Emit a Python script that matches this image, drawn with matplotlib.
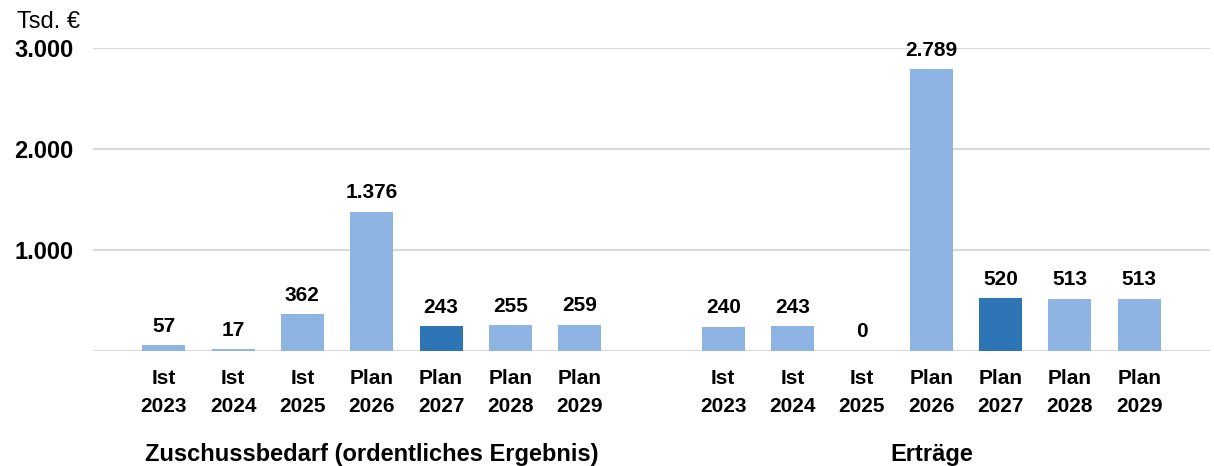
import numpy as np
import matplotlib.pyplot as plt
from matplotlib.ticker import FuncFormatter

plt.rcParams['font.family'] = ['Liberation Sans', 'DejaVu Sans']

tick_labels = ['Ist\n2023', 'Ist\n2024', 'Ist\n2025', 'Plan\n2026', 'Plan\n2027', 'Plan\n2028', 'Plan\n2029']
zuschuss = [57, 17, 362, 1376, 243, 255, 259]
ertraege = [240, 243, 0, 2789, 520, 513, 513]
groups = ['Zuschussbedarf (ordentliches Ergebnis)', 'Erträge']
highlight = 4  # Plan 2027

light = '#8DB4E2'
dark = '#2E75B6'
grid = '#D9D9D9'

fig = plt.figure(figsize=(12.14, 4.66), dpi=100)
ax = fig.add_axes([93 / 1214, 115 / 466, (1210 - 93) / 1214, (351 - 48) / 466])

n = len(tick_labels)
x1 = np.arange(n)
x2 = np.arange(n) + 8.07
colors = [dark if i == highlight else light for i in range(n)]

for xs, vals in [(x1, zuschuss), (x2, ertraege)]:
    bars = ax.bar(xs, vals, width=0.62, color=colors, zorder=3)
    for b, v in zip(bars, vals):
        ax.annotate(f'{v:,}'.replace(',', '.'), (b.get_x() + b.get_width() / 2, v),
                    xytext=(0, 7), textcoords='offset points', ha='center', va='bottom',
                    fontsize=15, fontweight='bold', annotation_clip=False)

ax.set_xlim(-1.02, 15.09)
ax.set_ylim(0, 3000)
ax.set_yticks([1000, 2000, 3000])
ax.yaxis.set_major_formatter(FuncFormatter(lambda v, p: f'{int(v):,}'.replace(',', '.')))
ax.grid(axis='y', color=grid, linewidth=1.5, zorder=0)
ax.axhline(0, color=grid, linewidth=1.5, zorder=1)

ax.set_xticks(np.concatenate([x1, x2]))
ax.set_xticklabels(tick_labels * 2, fontsize=15, fontweight='bold', linespacing=1.6)
ax.tick_params(axis='x', length=0, pad=13)
ax.tick_params(axis='y', length=0, pad=14, labelsize=17)
for lab in ax.get_yticklabels():
    lab.set_fontweight('bold')

for s in ax.spines.values():
    s.set_visible(False)

fig.text(372 / 1214, 1 - 455 / 466, groups[0], ha='center', va='center', fontsize=17, fontweight='bold')
fig.text(932 / 1214, 1 - 455 / 466, groups[1], ha='center', va='center', fontsize=17, fontweight='bold')
fig.text(17 / 1214, 1 - 22 / 466, 'Tsd. €', ha='left', va='center', fontsize=17)

fig.savefig('out.png', dpi=100)
